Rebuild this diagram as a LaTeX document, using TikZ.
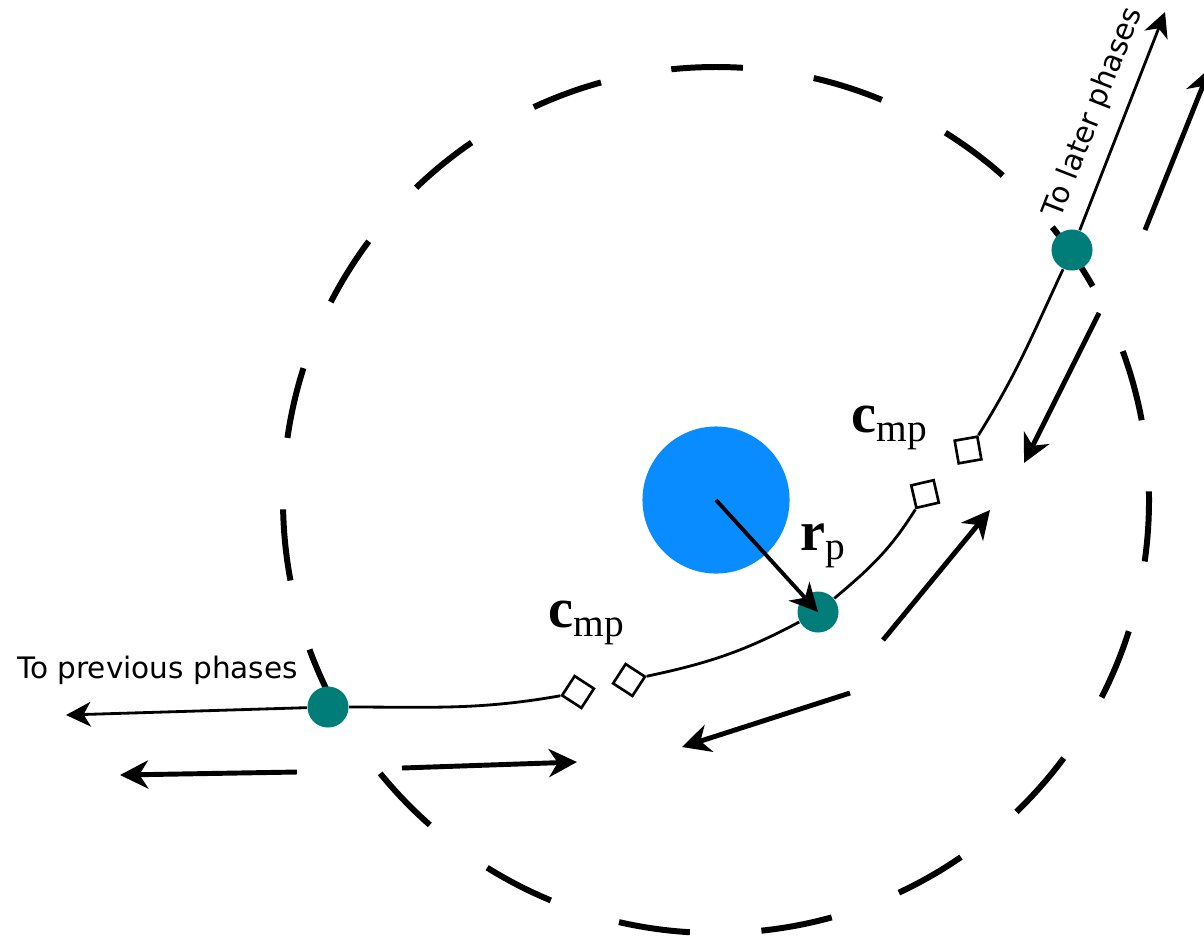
\documentclass[tikz,border=0pt]{standalone}
\usepackage{fontspec}
\newfontfamily\labelsans{DejaVu Sans}
\setmathrm{Liberation Serif}
\setboldmathrm{Liberation Serif}
\usetikzlibrary{arrows.meta}

\definecolor{sitecolor}{RGB}{0,125,120}
\definecolor{particlecolor}{RGB}{8,140,255}

\begin{document}
\begin{tikzpicture}[x=0.01cm, y=0.01cm,
    boundary/.style={line width=1.7pt, dash pattern=on 0.716cm off 0.716cm, dash phase=0.63cm},
    particle/.style={circle, fill=particlecolor, minimum size=1.47cm, inner sep=0pt},
    site/.style={circle, fill=sitecolor, minimum size=0.41cm, inner sep=0pt},
    port/.style={rectangle, draw, fill=white, line width=0.75pt, minimum size=0.23cm, inner sep=0pt},
    link/.style={line width=0.8pt},
    tolink/.style={link, -{Stealth[length=7pt, width=7pt, inset=2pt]}},
    flow/.style={line width=1.4pt, -{Stealth[length=8pt, width=8pt, inset=2.5pt]}},
    phase/.style={font=\labelsans\fontsize{8.4}{10}\selectfont, inner sep=1pt},
    sym/.style={font=\fontsize{16}{19}\selectfont}]

\clip (0,0) rectangle (1204,944);

% Search boundary
\coordinate (centre) at (716,444);
\draw[boundary] (centre) circle[radius=433];

% Particle and contact sites
\node[particle] (particle) at (centre) {};
\node[site] (prev) at (328,237) {};
\node[site] (contact) at (818,332) {};
\node[site] (next) at (1072,694) {};

% Midpoint markers
\node[port, rotate=-33] (m1) at (578,252) {};
\node[port, rotate=-33] (m2) at (629,264) {};
\node[port, rotate=13] (m3) at (925,450) {};
\node[port, rotate=10] (m4) at (968,494) {};

% Free ends
\coordinate (prevend) at (66,229);
\coordinate (nextend) at (1165,932);

% Chain
\draw[link] (prev) to[out=0, in=190] (m1.south west);
\draw[link] (m2.north east) to[out=12, in=208] (contact);
\draw[link] (contact) to[out=40, in=238] (m3.south west);
\draw[link] (m4.north east) to[out=58, in=245] (next);
\draw[tolink] (prev) -- (prevend);
\draw[tolink] (next) -- node[phase, sloped, above=3pt, pos=0.49] (nextlabel) {To later phases} (nextend);
\node[phase, anchor=base west] (prevlabel) at (13,266) {To previous phases};

% Radius vector
\draw[flow, line width=1.1pt] (particle.center) -- (contact.center);

% Labels
\node[sym] (cmp1) at (587,321) {$\mathbf{c}_{\mathrm{mp}}$};
\node[sym] (cmp2) at (890,516) {$\mathbf{c}_{\mathrm{mp}}$};
\node[sym] (rp) at (824,398) {$\mathbf{r}_{\mathrm{p}}$};

% Flow directions
\coordinate (f1a) at (297,172); \coordinate (f1b) at (120,169);
\coordinate (f2a) at (402,176); \coordinate (f2b) at (577,182);
\coordinate (f3a) at (850,251); \coordinate (f3b) at (682,197);
\coordinate (f4a) at (883,304); \coordinate (f4b) at (990,434);
\coordinate (f5a) at (1099,631); \coordinate (f5b) at (1024,481);
\coordinate (f6a) at (1145,714); \coordinate (f6b) at (1210,876);
\foreach \i in {1,...,6}
  \draw[flow] (f\i a) -- (f\i b);

\end{tikzpicture}
\end{document}
